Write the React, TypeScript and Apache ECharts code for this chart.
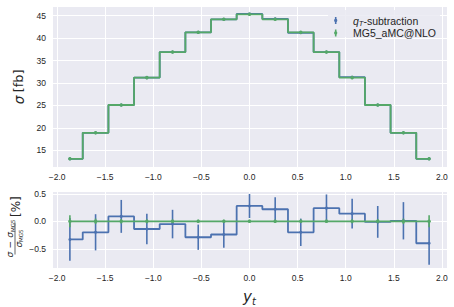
import React, { useEffect, useRef } from "react";
import * as echarts from "echarts";

// bin centres of y_t
const binCenters = [-1.867, -1.6, -1.333, -1.067, -0.8, -0.533, -0.267, 0, 0.267, 0.533, 0.8, 1.067, 1.333, 1.6, 1.867];
// cross sections [fb]
const qtSigma = [13.1, 18.9, 25.1, 31.2, 36.9, 41.3, 44.2, 45.4, 44.3, 41.2, 36.9, 31.3, 25.1, 18.9, 13.1];
const mg5Sigma = [13.1, 18.9, 25.1, 31.2, 36.9, 41.3, 44.2, 45.3, 44.2, 41.3, 36.9, 31.2, 25.1, 18.9, 13.1];
// relative deviation [%] and uncertainties
const qtDev = [-0.33, -0.2, 0.09, -0.14, -0.05, -0.29, -0.24, 0.28, 0.22, -0.2, 0.24, 0.14, -0.01, 0.01, -0.4];
const qtDevErr = [0.39, 0.33, 0.3, 0.28, 0.26, 0.23, 0.24, 0.22, 0.22, 0.25, 0.25, 0.27, 0.29, 0.34, 0.39];
const mg5Dev = [0, 0, 0, 0, 0, 0, 0, 0, 0, 0, 0, 0, 0, 0, 0];
const mg5DevErr = [0.11, 0.05, 0.04, 0.035, 0.03, 0.03, 0.03, 0.03, 0.03, 0.03, 0.03, 0.035, 0.04, 0.05, 0.11];

const BLUE = "#4C72B0";
const GREEN = "#55A868";
const BG = "#EAEAF2";
const FONT = "'Liberation Sans', Arial, sans-serif";
const TXT = "#262626";

const fmt = (v: number, d: number) => v.toFixed(d).replace("-", "\u2212");

function errRender(color: string) {
  return (params: any, api: any) => {
    const x = api.value(0);
    const y = api.value(1);
    const e = api.value(2);
    const p1 = api.coord([x, y - e]);
    const p2 = api.coord([x, y + e]);
    return {
      type: "line",
      shape: { x1: p1[0], y1: p1[1], x2: p2[0], y2: p2[1] },
      style: { stroke: color, lineWidth: 1.6 },
    };
  };
}

export default function App() {
  const ref = useRef<HTMLDivElement>(null);
  useEffect(() => {
    if (!ref.current) return;
    const chart = echarts.init(ref.current, undefined, { renderer: "svg" });
    const xAxisBase = (gridIndex: number) => ({
      type: "value",
      gridIndex,
      min: -2.053,
      max: 2.053,
      splitNumber: 8,
      minInterval: 0.5,
      maxInterval: 0.5,
      axisLine: { show: false },
      axisTick: { show: false },
      splitLine: { show: true, lineStyle: { color: "#ffffff", width: 1 } },
      axisLabel: {
        showMinLabel: false,
        showMaxLabel: false,
        margin: 5,
        fontSize: 8.5,
        fontFamily: FONT,
        color: TXT,
        formatter: (v: number) => fmt(v, 1),
      },
    });
    const pairs = (ys: number[]) => binCenters.map((x, i) => [x, ys[i]]);
    const triples = (ys: number[], es: number[]) => binCenters.map((x, i) => [x, ys[i], es[i]]);
    const option: any = {
      animation: false,
      backgroundColor: "#ffffff",
      grid: [
        { left: 52, top: 6, width: 395, height: 161.5, show: true, backgroundColor: BG, borderWidth: 0 },
        { left: 52, top: 191, width: 395, height: 79, show: true, backgroundColor: BG, borderWidth: 0 },
      ],
      xAxis: [
        xAxisBase(0),
        {
          ...xAxisBase(1),
          name: "{i|y}{s|t}",
          nameLocation: "middle",
          nameGap: 20,
          nameTextStyle: {
            rich: {
              i: { fontSize: 15, fontStyle: "italic", fontFamily: "'DejaVu Sans', sans-serif", color: TXT, lineHeight: 18, verticalAlign: "middle" },
              s: { fontSize: 10, fontStyle: "italic", fontFamily: "'DejaVu Sans', sans-serif", color: TXT, lineHeight: 10, verticalAlign: "bottom" },
            },
          },
        },
      ],
      yAxis: [
        {
          type: "value",
          gridIndex: 0,
          min: 11.17,
          max: 47.16,
          splitNumber: 7,
          minInterval: 5,
          maxInterval: 5,
          axisLine: { show: false },
          axisTick: { show: false },
          splitLine: { show: true, lineStyle: { color: "#ffffff", width: 1 } },
          axisLabel: { showMinLabel: false, showMaxLabel: false, margin: 6, fontSize: 8.5, fontFamily: FONT, color: TXT, formatter: (v: number) => fmt(v, 0) },
          name: "{g|σ} {n|[fb]}",
          nameLocation: "middle",
          nameGap: 22,
          nameTextStyle: {
            rich: {
              g: { fontSize: 13.5, fontStyle: "italic", fontFamily: "'DejaVu Sans', sans-serif", color: TXT },
              n: { fontSize: 13, fontFamily: "'DejaVu Sans', sans-serif", color: TXT },
            },
          },
        },
        {
          type: "value",
          gridIndex: 1,
          min: -0.851,
          max: 0.553,
          splitNumber: 3,
          minInterval: 0.5,
          maxInterval: 0.5,
          axisLine: { show: false },
          axisTick: { show: false },
          splitLine: { show: true, lineStyle: { color: "#ffffff", width: 1 } },
          axisLabel: { showMinLabel: false, showMaxLabel: false, margin: 6, fontSize: 8.5, fontFamily: FONT, color: TXT, formatter: (v: number) => fmt(v, 1) },
        },
      ],
      series: [
        {
          name: "qT-subtraction",
          type: "line",
          step: "middle",
          xAxisIndex: 0,
          yAxisIndex: 0,
          data: pairs(qtSigma),
          symbol: "circle",
          symbolSize: 3,
          showSymbol: true,
          itemStyle: { color: BLUE },
          lineStyle: { color: BLUE, width: 1.8 },
        },
        {
          name: "MG5_aMC@NLO",
          type: "line",
          step: "middle",
          xAxisIndex: 0,
          yAxisIndex: 0,
          data: pairs(mg5Sigma),
          symbol: "circle",
          symbolSize: 3.5,
          showSymbol: true,
          itemStyle: { color: GREEN },
          lineStyle: { color: GREEN, width: 1.8 },
        },
        {
          type: "custom",
          xAxisIndex: 1,
          yAxisIndex: 1,
          renderItem: errRender(BLUE),
          encode: { x: 0, y: 1 },
          data: triples(qtDev, qtDevErr),
        },
        {
          type: "line",
          step: "middle",
          xAxisIndex: 1,
          yAxisIndex: 1,
          data: pairs(qtDev),
          symbol: "circle",
          symbolSize: 3,
          itemStyle: { color: BLUE },
          lineStyle: { color: BLUE, width: 1.8 },
        },
        {
          type: "custom",
          xAxisIndex: 1,
          yAxisIndex: 1,
          renderItem: errRender(GREEN),
          encode: { x: 0, y: 1 },
          data: triples(mg5Dev, mg5DevErr),
        },
        {
          type: "line",
          step: "middle",
          xAxisIndex: 1,
          yAxisIndex: 1,
          data: pairs(mg5Dev),
          symbol: "circle",
          symbolSize: 3.5,
          itemStyle: { color: GREEN },
          lineStyle: { color: GREEN, width: 1.8 },
        },
      ],
      graphic: [
        // legend box
        { type: "rect", shape: { x: 328, y: 10, width: 112, height: 27 }, style: { fill: BG, opacity: 0.85 }, z: 10 },
        // legend
        { type: "line", shape: { x1: 335.7, y1: 17, x2: 335.7, y2: 24 }, style: { stroke: BLUE, lineWidth: 1.6 }, z: 11 },
        { type: "circle", shape: { cx: 335.7, cy: 20.5, r: 1.6 }, style: { fill: BLUE }, z: 11 },
        { type: "line", shape: { x1: 335.7, y1: 29.5, x2: 335.7, y2: 36.5 }, style: { stroke: GREEN, lineWidth: 1.6 }, z: 11 },
        { type: "circle", shape: { cx: 335.7, cy: 33, r: 1.6 }, style: { fill: GREEN }, z: 11 },
        {
          type: "text",
          x: 353,
          y: 20.5,
          z: 11,
          style: {
            text: "{i|q}{s|T}{n|-subtraction}",
            verticalAlign: "middle",
            align: "left",
            rich: {
              i: { fontSize: 10.5, fontStyle: "italic", fontFamily: FONT, fill: TXT, lineHeight: 13, verticalAlign: "middle" },
              s: { fontSize: 7.5, fontStyle: "italic", fontFamily: FONT, fill: TXT, lineHeight: 7, verticalAlign: "bottom" },
              n: { fontSize: 10.5, fontFamily: FONT, fill: TXT, lineHeight: 13, verticalAlign: "middle" },
            },
          },
        },
        {
          type: "text",
          x: 353,
          y: 33,
          z: 11,
          style: { text: "MG5_aMC@NLO", fontSize: 10.5, fontFamily: FONT, fill: TXT, verticalAlign: "middle", align: "left" },
        },
        // lower y label (fraction)
        {
          type: "group",
          x: 15,
          y: 238.5,
          rotation: Math.PI / 2,
          children: [
            {
              type: "text",
              x: 0,
              y: -4.6,
              style: {
                text: "{g|σ} {m|−} {g|σ}{s|MG5}",
                align: "center",
                verticalAlign: "middle",
                rich: {
                  g: { fontSize: 9, fontStyle: "italic", fontFamily: "'DejaVu Sans', sans-serif", fill: TXT, lineHeight: 10, verticalAlign: "middle" },
                  m: { fontSize: 9, fontFamily: "'DejaVu Sans', sans-serif", fill: TXT, lineHeight: 10, verticalAlign: "middle" },
                  s: { fontSize: 5.5, fontFamily: "'DejaVu Sans', sans-serif", fill: TXT, lineHeight: 6, verticalAlign: "bottom" },
                },
              },
            },
            { type: "line", shape: { x1: -16, y1: 0, x2: 16, y2: 0 }, style: { stroke: TXT, lineWidth: 0.7 } },
            {
              type: "text",
              x: 0,
              y: 4.2,
              style: {
                text: "{g|σ}{s|MG5}",
                align: "center",
                verticalAlign: "middle",
                rich: {
                  g: { fontSize: 9, fontStyle: "italic", fontFamily: "'DejaVu Sans', sans-serif", fill: TXT, lineHeight: 10, verticalAlign: "middle" },
                  s: { fontSize: 5.5, fontFamily: "'DejaVu Sans', sans-serif", fill: TXT, lineHeight: 6, verticalAlign: "bottom" },
                },
              },
            },
            {
              type: "text",
              x: 21.5,
              y: 1.2,
              style: { text: "[%]", fontSize: 12, fontFamily: "'DejaVu Sans', sans-serif", fill: TXT, align: "left", verticalAlign: "middle" },
            },
          ],
        },
      ],
    };
    chart.setOption(option);
    return () => chart.dispose();
  }, []);
  return <div ref={ref} style={{ width: 454, height: 307, position: "absolute", left: 0, top: 0 }} />;
}
